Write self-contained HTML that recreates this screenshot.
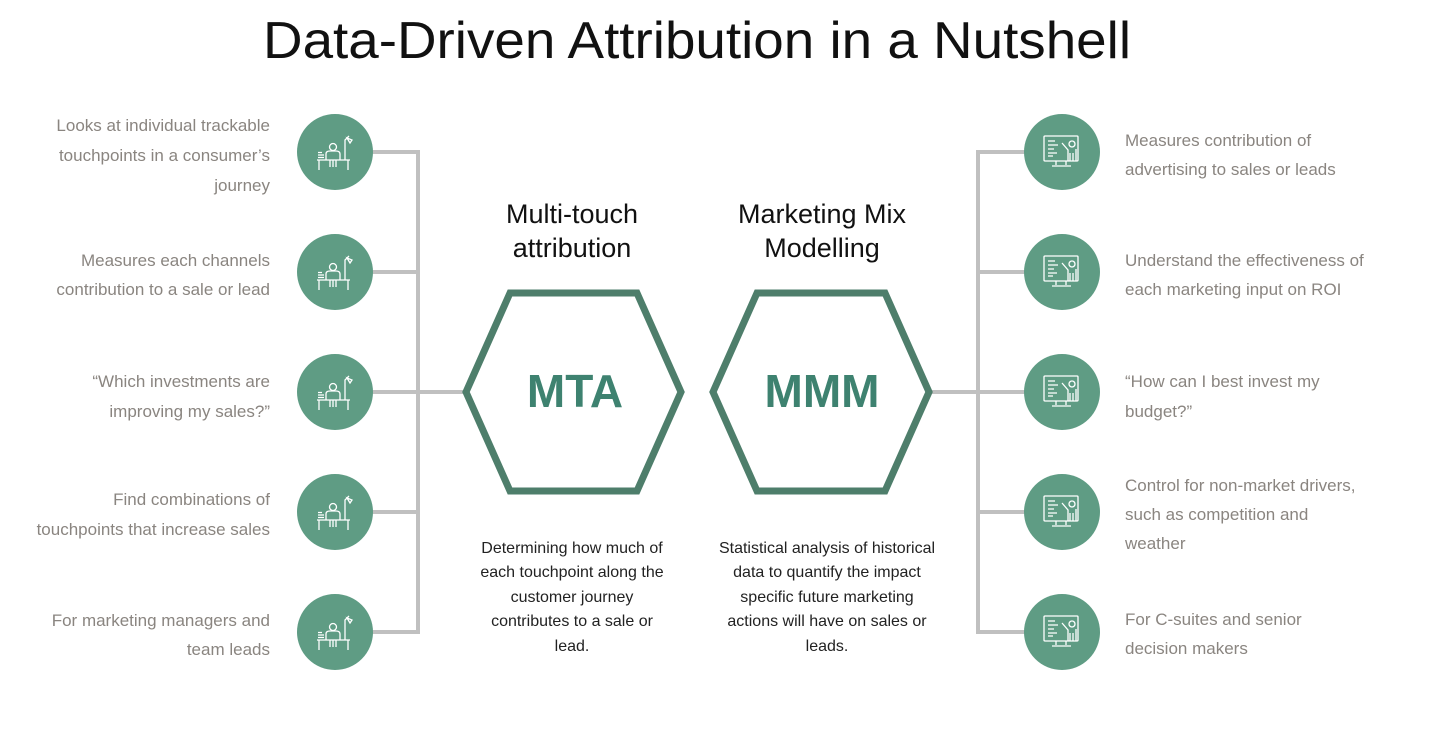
<!DOCTYPE html>
<html><head><meta charset="utf-8"><style>
html,body{margin:0;padding:0;background:#fff;width:1430px;height:733px;overflow:hidden}
svg{display:block}
.l{font-family:"Liberation Sans",sans-serif;font-size:17px;fill:#8a8580}
.d{font-family:"Liberation Sans",sans-serif;font-size:16px;fill:#222}
.h{font-family:"Liberation Sans",sans-serif;font-size:27px;fill:#111}
.b{font-family:"Liberation Sans",sans-serif;font-size:46px;font-weight:bold;fill:#3e8270}
</style></head><body>
<svg width="1430" height="733" viewBox="0 0 1430 733">
<defs>
<g id="desk" fill="none" stroke="#fff" stroke-width="1.3">
<circle cx="0" cy="-7" r="3.5"/>
<path d="M-7 6 V0 Q-7 -3 -3 -3 H3 Q7 -3 7 0 V6"/>
<path d="M-16 6 H17 M-14 6 V16 M15 6 V16 M-3 6 V13 M3 6 V13 M0 6 V13"/>
<path d="M12 6 V-14 L16 -18 M14 -16 l5 2 l-2 3 z"/>
<path d="M-15 1 H-9 M-15 3.5 H-9 M-15 -1.5 H-11"/>
</g>
<g id="board" fill="none" stroke="#fff" stroke-width="1.3">
<rect x="-18" y="-16" width="34" height="25" rx="1"/>
<path d="M-6 9 V13 M4 9 V13 M-10 14 H9"/>
<path d="M-14 -11 H-7 M-14 -7 H-4 M-14 -3 H-8 M-14 1 H-5 M-14 4 H-9"/>
<circle cx="10" cy="-8" r="3"/>
<path d="M0 -9 L6 -2 V9 M14 -3 V9 M8 1 V9 M11 1 V9"/>
</g>
</defs>
<text x="697" y="58" text-anchor="middle" textLength="868" lengthAdjust="spacingAndGlyphs" style="font-family:'Liberation Sans',sans-serif;font-size:52px;fill:#111">Data-Driven Attribution in a Nutshell</text>

<g stroke="#c0c0c0" stroke-width="4" fill="none">
<path d="M418 150 V634"/>
<path d="M335 152 H420 M335 272 H420 M335 392 H465 M335 512 H420 M335 632 H420"/>
<path d="M978 150 V634"/>
<path d="M976 152 H1062 M976 272 H1062 M930 392 H1062 M976 512 H1062 M976 632 H1062"/>
</g>

<g fill="#5f9c84">
<circle cx="335" cy="152" r="38"/><circle cx="335" cy="272" r="38"/><circle cx="335" cy="392" r="38"/><circle cx="335" cy="512" r="38"/><circle cx="335" cy="632" r="38"/>
<circle cx="1062" cy="152" r="38"/><circle cx="1062" cy="272" r="38"/><circle cx="1062" cy="392" r="38"/><circle cx="1062" cy="512" r="38"/><circle cx="1062" cy="632" r="38"/>
</g>
<use href="#desk" x="333" y="154"/><use href="#desk" x="333" y="274"/><use href="#desk" x="333" y="394"/><use href="#desk" x="333" y="514"/><use href="#desk" x="333" y="634"/>
<use href="#board" x="1062" y="152"/><use href="#board" x="1062" y="272"/><use href="#board" x="1062" y="392"/><use href="#board" x="1062" y="512"/><use href="#board" x="1062" y="632"/>

<g fill="none" stroke="#4e7e6b" stroke-width="7" stroke-linejoin="miter">
<polygon points="466,392 510,293 637,293 681,392 637,491 510,491"/>
<polygon points="713,392 757,293 885,293 929,392 885,491 757,491"/>
</g>
<text class="b" x="575" y="407" text-anchor="middle">MTA</text>
<text class="b" x="822" y="407" text-anchor="middle">MMM</text>

<text class="h" x="572" y="223" text-anchor="middle">Multi-touch</text>
<text class="h" x="572" y="257" text-anchor="middle">attribution</text>
<text class="h" x="822" y="223" text-anchor="middle">Marketing Mix</text>
<text class="h" x="822" y="257" text-anchor="middle">Modelling</text>

<g class="d" text-anchor="middle">
<text class="d" x="572" y="553">Determining how much of</text>
<text class="d" x="572" y="577">each touchpoint along the</text>
<text class="d" x="572" y="602">customer journey</text>
<text class="d" x="572" y="626">contributes to a sale or</text>
<text class="d" x="572" y="651">lead.</text>
<text class="d" x="827" y="553">Statistical analysis of historical</text>
<text class="d" x="827" y="577">data to quantify the impact</text>
<text class="d" x="827" y="602">specific future marketing</text>
<text class="d" x="827" y="626">actions will have on sales or</text>
<text class="d" x="827" y="651">leads.</text>
</g>

<g text-anchor="end">
<text class="l" x="270" y="131">Looks at individual trackable</text>
<text class="l" x="270" y="161">touchpoints in a consumer’s</text>
<text class="l" x="270" y="191">journey</text>
<text class="l" x="270" y="266">Measures each channels</text>
<text class="l" x="270" y="295">contribution to a sale or lead</text>
<text class="l" x="270" y="387">“Which investments are</text>
<text class="l" x="270" y="417">improving my sales?”</text>
<text class="l" x="270" y="505">Find combinations of</text>
<text class="l" x="270" y="535">touchpoints that increase sales</text>
<text class="l" x="270" y="626">For marketing managers and</text>
<text class="l" x="270" y="655">team leads</text>
</g>
<g>
<text class="l" x="1125" y="146">Measures contribution of</text>
<text class="l" x="1125" y="175">advertising to sales or leads</text>
<text class="l" x="1125" y="266">Understand the effectiveness of</text>
<text class="l" x="1125" y="295">each marketing input on ROI</text>
<text class="l" x="1125" y="387">“How can I best invest my</text>
<text class="l" x="1125" y="417">budget?”</text>
<text class="l" x="1125" y="491">Control for non-market drivers,</text>
<text class="l" x="1125" y="520">such as competition and</text>
<text class="l" x="1125" y="549">weather</text>
<text class="l" x="1125" y="625">For C-suites and senior</text>
<text class="l" x="1125" y="654">decision makers</text>
</g>
</svg>
</body></html>
